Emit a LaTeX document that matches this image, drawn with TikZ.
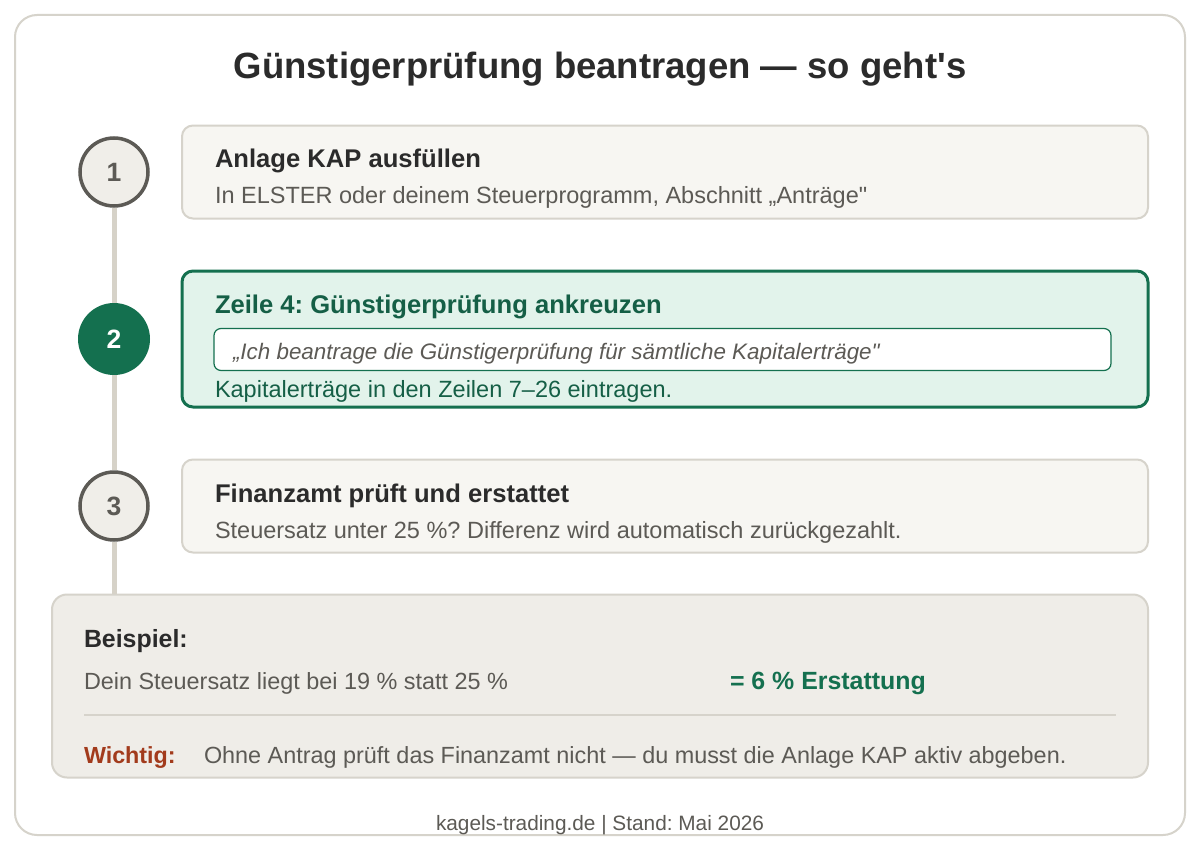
\documentclass[tikz,border=0pt]{standalone}
\usepackage{fontspec}
\setmainfont{Liberation Sans}[Ligatures=TeXOff]
\frenchspacing
\definecolor{frameC}{HTML}{D6D3CB}
\definecolor{boxFill}{HTML}{F7F6F2}
\definecolor{darkT}{HTML}{2B2B2B}
\definecolor{grayT}{HTML}{5C5A55}
\definecolor{circFill}{HTML}{F0EEE9}
\definecolor{greenC}{HTML}{14704F}
\definecolor{greenFill}{HTML}{E2F3EB}
\definecolor{greenT}{HTML}{155F46}
\definecolor{exFill}{HTML}{EFEDE8}
\definecolor{rustC}{HTML}{A23B1C}
\definecolor{lineC}{HTML}{D6D2C8}
\newcommand{\fs}[1]{\fontsize{#1}{#1}\selectfont\frenchspacing}
\begin{document}
\begin{tikzpicture}[x=1pt,y=-1pt,
  stepcircle/.style={circle,draw=grayT,line width=3.5pt,fill=circFill,minimum size=68pt,inner sep=0pt,text=grayT,font=\fs{26.5}\bfseries},
  activecircle/.style={circle,fill=greenC,minimum size=72pt,inner sep=0pt,text=white,font=\fs{26.5}\bfseries},
  stepbox/.style={draw=frameC,line width=2pt,fill=boxFill,rounded corners=11pt},
  txt/.style={anchor=base west,inner sep=0pt,outer sep=0pt},
  steptitle/.style={txt,font=\fs{25.6}\bfseries,text=darkT},
  stepsub/.style={txt,font=\fs{23.5},text=grayT},
  timeline/.style={draw=lineC,line width=5pt}
]
\useasboundingbox (0,0) rectangle (1200,851);
\fill[white] (0,0) rectangle (1200,851);
\node[draw=frameC,line width=2pt,fill=white,rounded corners=22pt,minimum width=1170pt,minimum height=820pt,inner sep=0pt] (frame) at (600,425) {};

\node[anchor=base,inner sep=0pt,font=\fs{36.5}\bfseries,text=darkT] (title) at (600,78) {Günstigerprüfung beantragen — so geht's};

% example box
\node[draw=frameC,line width=2pt,fill=exFill,rounded corners=15pt,minimum width=1096pt,minimum height=183pt,inner sep=0pt] (ex) at (600,686) {};

% step boxes
\node[stepbox,minimum width=966pt,minimum height=93pt,inner sep=0pt] (b1) at (665,172) {};
\node[draw=greenC,line width=3pt,fill=greenFill,rounded corners=11pt,minimum width=966pt,minimum height=136pt,inner sep=0pt] (b2) at (665,339) {};
\node[stepbox,minimum width=966pt,minimum height=93pt,inner sep=0pt] (b3) at (665,506) {};

% circles
\node[stepcircle] (c1) at (114,172) {1};
\node[activecircle] (c2) at (114,339) {2};
\node[stepcircle] (c3) at (114,506) {3};

\path[timeline] (c1.south) -- (c2.north);
\path[timeline] (c2.south) -- (c3.north);
\path[timeline] (c3.south) -- (c3.south |- ex.north);

% step 1
\node[steptitle] (t1) at (215,167) {Anlage KAP ausfüllen};
\node[stepsub] (s1) at (215,203) {In ELSTER oder deinem Steuerprogramm, Abschnitt „Anträge"};

% step 2
\node[steptitle,text=greenT] (t2) at (215,313) {Zeile 4: Günstigerprüfung ankreuzen};
\node[draw=greenC,line width=1.2pt,fill=white,rounded corners=7pt,minimum width=897pt,minimum height=42pt,inner sep=0pt] (q) at (662.5,349.5) {};
\node[txt,font=\fs{22.4}\itshape,text=grayT] (qt) at (233,359) {„Ich beantrage die Günstigerprüfung für sämtliche Kapitalerträge"};
\node[stepsub,text=greenT] (s2) at (215,397) {Kapitalerträge in den Zeilen 7–26 eintragen.};

% step 3
\node[steptitle] (t3) at (215,502) {Finanzamt prüft und erstattet};
\node[stepsub] (s3) at (215,538) {Steuersatz unter 25 \%? Differenz wird automatisch zurückgezahlt.};

% example content
\node[txt,font=\fs{24.9}\bfseries,text=darkT] (bsp) at (84,647) {Beispiel:};
\node[txt,font=\fs{23.4},text=grayT] (bspt) at (84,689) {Dein Steuersatz liegt bei 19 \% statt 25 \%};
\node[txt,font=\fs{24.9}\bfseries,text=greenC] (erst) at (730,689) {= 6 \% Erstattung};
\coordinate (dl) at (84,715);
\coordinate (dr) at (1116,715);
\draw[frameC,line width=1.2pt] (dl) -- (dr);
\node[txt,font=\fs{23.3}\bfseries,text=rustC] (wt) at (84,763) {Wichtig:};
\node[txt,font=\fs{23.4},text=grayT] (wtt) at (204,763) {Ohne Antrag prüft das Finanzamt nicht — du musst die Anlage KAP aktiv abgeben.};

% footer
\node[anchor=base,inner sep=0pt,font=\fs{20.8},text=grayT] (foot) at (600,830) {kagels-trading.de | Stand: Mai 2026};
\end{tikzpicture}
\end{document}
